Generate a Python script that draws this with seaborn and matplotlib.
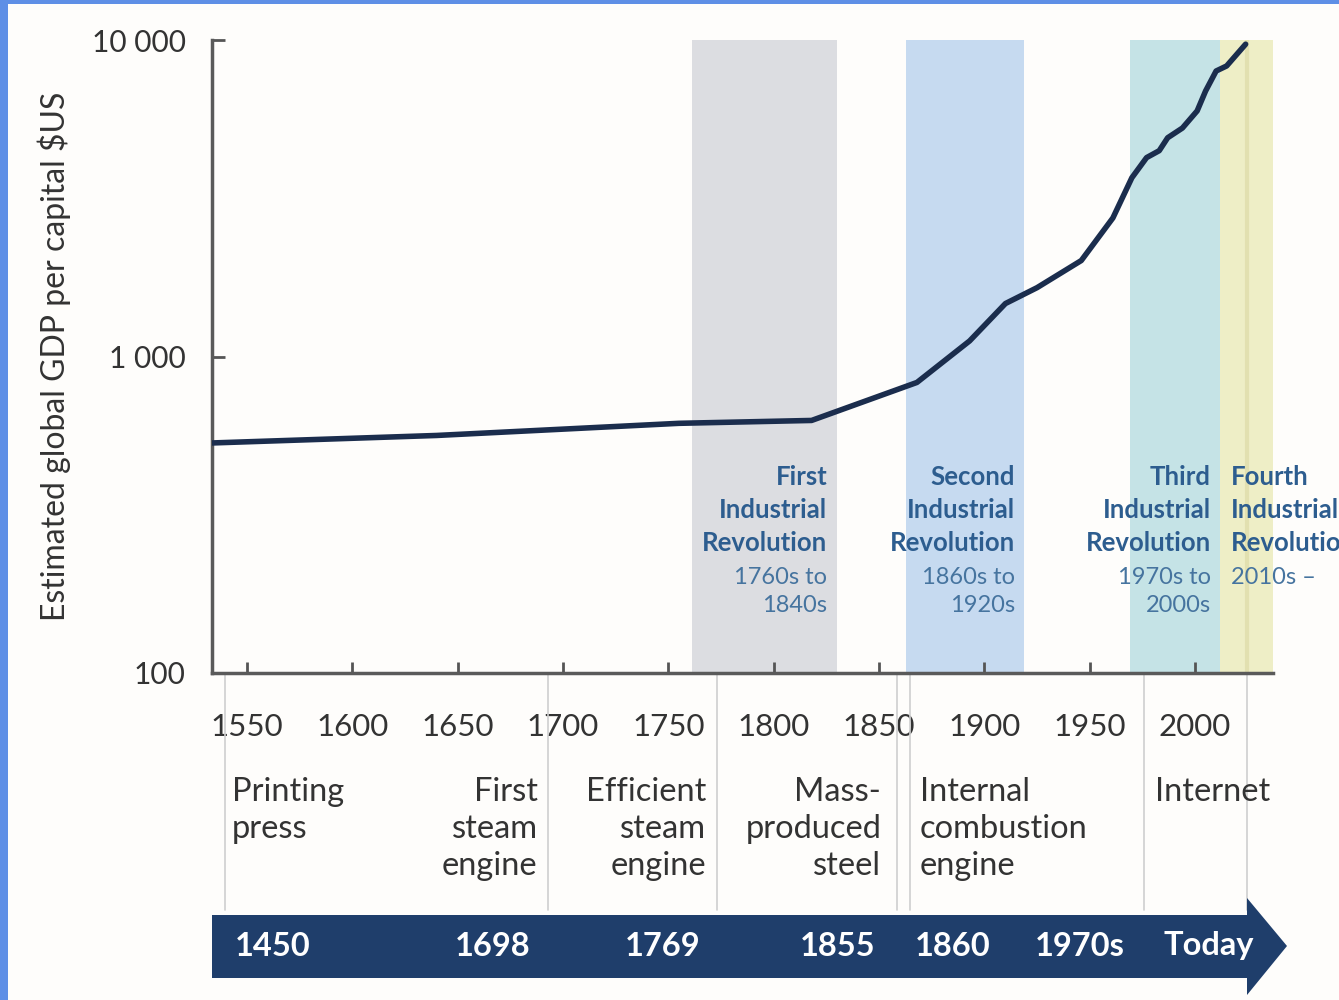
import matplotlib
matplotlib.use("Agg")
import matplotlib.pyplot as plt
import matplotlib.patches as mpatches
from matplotlib.transforms import blended_transform_factory
import seaborn as sns
import pandas as pd

# --- data ---
years = [1533, 1640, 1755, 1818, 1868, 1893, 1910, 1925, 1946, 1961, 1970,
         1977, 1983, 1987, 1994, 2001, 2005, 2010, 2015, 2024]
gdp = [533, 563, 615, 628, 828, 1120, 1470, 1650, 2010, 2740, 3670,
       4250, 4470, 4910, 5270, 5970, 6900, 7980, 8280, 9700]

x_ticks = [1550, 1600, 1650, 1700, 1750, 1800, 1850, 1900, 1950, 2000]
y_ticks = [100, 1000, 10000]
y_tick_labels = ["100", "1 000", "10 000"]

rev_titles = ["First\nIndustrial\nRevolution", "Second\nIndustrial\nRevolution",
              "Third\nIndustrial\nRevolution", "Fourth\nIndustrial\nRevolution"]
rev_dates = ["1760s to\n1840s", "1860s to\n1920s", "1970s to\n2000s", "2010s \u2013"]
rev_start = [1761, 1863, 1969, 2012]
rev_end = [1830, 1919, 2012, 2037]
rev_colors = ["#dcdde1", "#c6daf0", "#c5e3e6", "#eeeec6"]

inventions = ["Printing\npress", "First\nsteam\nengine", "Efficient\nsteam\nengine",
              "Mass-\nproduced\nsteel", "Internal\ncombustion\nengine", "Internet"]
invention_dates = ["1450", "1698", "1769", "1855", "1860", "1970s", "Today"]
divider_years = [1539.5, 1693, 1773, 1858.5, 1864.5, 1976, 2024.5]

df = pd.DataFrame({"year": years, "gdp": gdp})

sns.set_theme(style="ticks")
plt.rcParams["font.family"] = ["Lato", "DejaVu Sans"]

W, H = 1339, 1000
fig = plt.figure(figsize=(W / 100, H / 100), dpi=100)
fig.patch.set_facecolor("#fefdfb")
# blue frame on the left and top edges
fig.patches.append(mpatches.Rectangle((0, 0), 8 / W, 1, transform=fig.transFigure,
                                      facecolor="#5e8fe6", edgecolor="none", zorder=-5))
fig.patches.append(mpatches.Rectangle((0, 1 - 4 / H), 1, 4 / H, transform=fig.transFigure,
                                      facecolor="#5e8fe6", edgecolor="none", zorder=-5))

ax = fig.add_axes([212 / W, 327 / H, 1061 / W, 633 / H])
ax.set_facecolor("none")
ax.set_yscale("log")
ax.set_xlim(1533.4, 2037)
ax.set_ylim(100, 10000)

for s, e, c in zip(rev_start, rev_end, rev_colors):
    ax.axvspan(s, e, color=c, lw=0, zorder=0)
# the "Today" divider shows faintly through the yellow band
ax.axvline(divider_years[-1], color="#e2e0b0", lw=3, zorder=0.5)

sns.lineplot(data=df, x="year", y="gdp", ax=ax, color="#1b2d4d", linewidth=4, zorder=3)

ax.set_xticks(x_ticks)
ax.set_xticklabels([str(t) for t in x_ticks])
ax.set_yticks(y_ticks)
ax.set_yticklabels(y_tick_labels)
ax.minorticks_off()
ax.tick_params(axis="x", direction="in", length=8, width=2, color="#555555",
               labelsize=22.5, pad=29, labelcolor="#333333")
ax.tick_params(axis="y", direction="in", length=9, width=2, color="#555555",
               labelsize=21.5, pad=19, labelcolor="#333333")
ax.set_xlabel("")
ax.set_ylabel("Estimated global GDP per capital $US", fontsize=23, color="#333333", labelpad=15)
sns.despine(ax=ax)
for side in ["left", "bottom"]:
    ax.spines[side].set_color("#5a5a5a")
    ax.spines[side].set_linewidth(2.5)

tr = blended_transform_factory(ax.transData, fig.transFigure)

# revolution labels
for i, (t, d) in enumerate(zip(rev_titles, rev_dates)):
    if i < 3:
        xp, ha = rev_end[i] - 4.5, "right"
    else:
        xp, ha = rev_start[i] + 5, "left"
    ax.text(xp, 1 - 465 / H, t, transform=tr, ha=ha, va="top", fontsize=18.5,
            fontweight="bold", color="#2d5d8f", linespacing=1.45, clip_on=False)
    ax.text(xp, 1 - 567 / H, d, transform=tr, ha=ha, va="top", fontsize=17,
            color="#46749f", linespacing=1.4, clip_on=False)

# lower timeline
for xd in divider_years:
    ax.plot([xd, xd], [327 / H, 1 - 910 / H], transform=tr, color="#cfcfcf",
            lw=1.2, clip_on=False, zorder=1)

inv_x = [1543, 1688, 1768, 1851, 1869.5, 1981]
inv_ha = ["left", "right", "right", "right", "left", "left"]
for name, xp, ha in zip(inventions, inv_x, inv_ha):
    ax.text(xp, 1 - 777 / H, name, transform=tr, ha=ha, va="top", fontsize=23.5,
            color="#333333", linespacing=1.3, clip_on=False)

arrow = mpatches.Polygon(
    [(212 / W, 1 - 915 / H), (1247 / W, 1 - 915 / H), (1247 / W, 1 - 898 / H),
     (1287 / W, 1 - 946 / H), (1247 / W, 1 - 995 / H), (1247 / W, 1 - 978 / H),
     (212 / W, 1 - 978 / H)],
    closed=True, transform=fig.transFigure, facecolor="#1f3e6b", edgecolor="none", zorder=5)
fig.patches.append(arrow)

date_x = [235, 530, 700, 875, 915, 1035, 1163]
date_ha = ["left", "right", "right", "right", "left", "left", "left"]
for lab, xp, ha in zip(invention_dates, date_x, date_ha):
    fig.text(xp / W, 1 - 946 / H, lab, ha=ha, va="center", fontsize=23.5,
             fontweight="bold", color="white", zorder=6)

fig.savefig("out.png", dpi=100, facecolor=fig.get_facecolor())
